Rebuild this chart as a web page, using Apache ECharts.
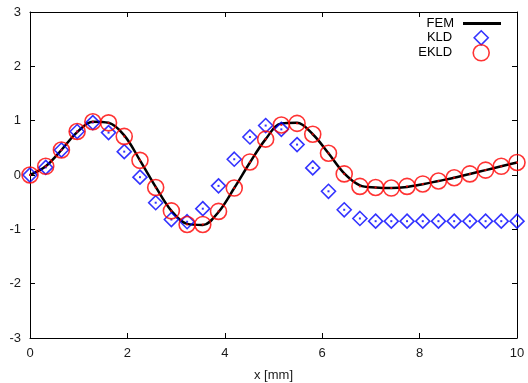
<!DOCTYPE html>
<html>
<head>
<meta charset="utf-8">
<script src="https://cdn.jsdelivr.net/npm/echarts@6/dist/echarts.min.js"></script>
<style>
html,body{margin:0;padding:0;background:#fff;}
#chart{width:528px;height:383px;}
</style>
</head>
<body>
<div id="chart"></div>
<script>
// x positions (mm)
const xValues = [0, 0.323, 0.645, 0.968, 1.290, 1.613, 1.935, 2.258, 2.581, 2.903, 3.226, 3.548,
  3.871, 4.194, 4.516, 4.839, 5.161, 5.484, 5.806, 6.129, 6.452, 6.774, 7.097, 7.419,
  7.742, 8.065, 8.387, 8.710, 9.032, 9.355, 9.677, 10];
// FEM reference solution
const femValues = [0, 0.16, 0.46, 0.79, 0.98, 0.96, 0.73, 0.27, -0.22, -0.66, -0.90, -0.92,
  -0.68, -0.24, 0.23, 0.66, 0.95, 0.96, 0.75, 0.40, 0.03, -0.19, -0.23, -0.24,
  -0.22, -0.17, -0.11, -0.05, 0.02, 0.09, 0.16, 0.23];
// KLD
const kldValues = [0, 0.14, 0.46, 0.80, 0.965, 0.78, 0.43, -0.04, -0.51, -0.82, -0.86, -0.62,
  -0.20, 0.29, 0.70, 0.91, 0.84, 0.56, 0.13, -0.30, -0.64, -0.80, -0.85, -0.85,
  -0.85, -0.85, -0.85, -0.85, -0.85, -0.85, -0.85, -0.85];
// EKLD
const ekldValues = [0, 0.16, 0.46, 0.80, 0.98, 0.96, 0.71, 0.27, -0.23, -0.66, -0.91, -0.91,
  -0.67, -0.24, 0.24, 0.66, 0.92, 0.95, 0.75, 0.40, 0.02, -0.21, -0.23, -0.24,
  -0.21, -0.165, -0.11, -0.05, 0.02, 0.09, 0.16, 0.23];
const xTicks = [0, 2, 4, 6, 8, 10];
const yTicks = [-3, -2, -1, 0, 1, 2, 3];
const seriesNames = ['FEM', 'KLD', 'EKLD'];

const pair = (ys) => xValues.map((x, i) => [x, ys[i]]);
const FONT = 'Liberation Sans';
const BLUE = '#0000ff', RED = '#ff0000', CLEAR = 'rgba(0,0,0,0)';
const axisBase = {
  type: 'value',
  axisLine: { show: true, onZero: false, lineStyle: { color: '#000', width: 1 } },
  axisTick: { show: true, inside: true, length: 5, lineStyle: { color: '#000', width: 1 } },
  splitLine: { show: false },
  minorTick: { show: false }
};

const chart = echarts.init(document.getElementById('chart'), null, { renderer: 'canvas' });
const legendText = (pad) => ({ fontSize: 13, fontFamily: FONT, color: '#000', padding: [0, pad, 0, 0] });
const legendBase = { orient: 'vertical', align: 'right', padding: 0, selectedMode: false };
chart.setOption({
  animation: false,
  backgroundColor: '#fff',
  grid: { left: 30, right: 11, top: 12, bottom: 45, outerBoundsMode: 'none' },
  legend: [
    Object.assign({}, legendBase, {
      data: [{ name: seriesNames[0], icon: 'rect', itemStyle: { color: '#000' } }],
      top: 17, right: 27, itemWidth: 38, itemHeight: 3, textStyle: legendText(4)
    }),
    Object.assign({}, legendBase, {
      data: [{ name: seriesNames[1], icon: 'diamond',
        itemStyle: { color: CLEAR, borderColor: BLUE, borderWidth: 1.6 } }],
      top: 30, right: 39, itemWidth: 14, itemHeight: 14, textStyle: legendText(17)
    }),
    Object.assign({}, legendBase, {
      data: [{ name: seriesNames[2], icon: 'circle',
        itemStyle: { color: CLEAR, borderColor: RED, borderWidth: 1.6 } }],
      top: 44, right: 38, itemWidth: 16, itemHeight: 16, textStyle: legendText(16)
    })
  ],
  xAxis: [
    Object.assign({}, axisBase, {
      position: 'bottom', min: xTicks[0], max: xTicks[xTicks.length - 1], interval: 2,
      axisLabel: { fontSize: 13, fontFamily: FONT, color: '#1a1a1a', margin: 9 },
      name: 'x [mm]', nameLocation: 'middle', nameGap: 31,
      nameTextStyle: { fontSize: 13, fontFamily: FONT, color: '#1a1a1a' }
    }),
    Object.assign({}, axisBase, {
      position: 'top', min: xTicks[0], max: xTicks[xTicks.length - 1], interval: 2,
      axisLabel: { show: false }
    })
  ],
  yAxis: [
    Object.assign({}, axisBase, {
      position: 'left', min: yTicks[0], max: yTicks[yTicks.length - 1], interval: 1,
      axisLabel: { fontSize: 13, fontFamily: FONT, color: '#1a1a1a', margin: 9 }
    }),
    Object.assign({}, axisBase, {
      position: 'right', min: yTicks[0], max: yTicks[yTicks.length - 1], interval: 1,
      axisLabel: { show: false }
    })
  ],
  series: [
    {
      name: seriesNames[0], type: 'line', data: pair(femValues), smooth: 0.35,
      symbol: 'none', showSymbol: false,
      lineStyle: { color: '#000', width: 2.5 }, itemStyle: { color: '#000' }, z: 2
    },
    {
      name: seriesNames[1], type: 'scatter', data: pair(kldValues),
      symbol: 'diamond', symbolSize: 14,
      itemStyle: { color: CLEAR, borderColor: BLUE, borderWidth: 1.6 }, z: 3
    },
    {
      type: 'scatter', data: pair(kldValues), symbol: 'rect', symbolSize: 2,
      itemStyle: { color: BLUE }, silent: true, z: 3
    },
    {
      name: seriesNames[2], type: 'scatter', data: pair(ekldValues),
      symbol: 'circle', symbolSize: 16,
      itemStyle: { color: CLEAR, borderColor: RED, borderWidth: 1.6 }, z: 4
    },
    {
      type: 'scatter', data: pair(ekldValues), symbol: 'rect', symbolSize: 2,
      itemStyle: { color: RED }, silent: true, z: 4
    }
  ]
});
</script>
</body>
</html>
